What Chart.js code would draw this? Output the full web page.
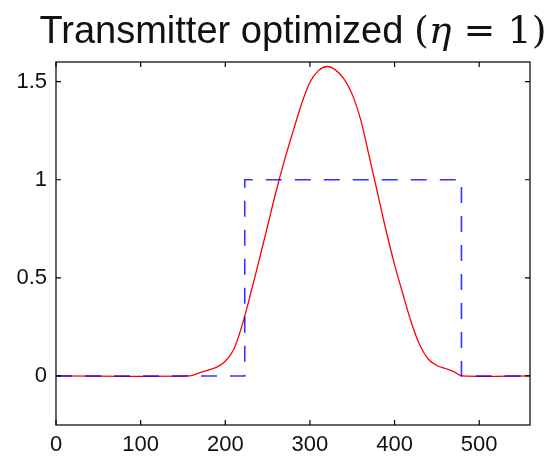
<!DOCTYPE html>
<html>
<head>
<meta charset="utf-8">
<script src="https://cdn.jsdelivr.net/npm/chart.js@4/dist/chart.umd.min.js"></script>
<style>
  html, body { margin: 0; padding: 0; background: #fff; }
  #wrap { width: 552px; height: 458px; }
</style>
</head>
<body>
<div id="wrap"><canvas id="c" width="552" height="458"></canvas></div>
<script>
// data
const redX = [0, 158, 170, 180, 190, 200, 210, 220, 230, 240, 250, 260, 270, 280, 290, 300, 310, 320, 330, 340, 350, 360, 370, 380, 390, 400, 410, 420, 430, 440, 450, 460, 470, 480, 560];
const redY = [0, 0, 0.017, 0.03, 0.045, 0.075, 0.135, 0.26, 0.42, 0.59, 0.765, 0.94, 1.10, 1.245, 1.385, 1.497, 1.556, 1.577, 1.56, 1.515, 1.435, 1.305, 1.12, 0.93, 0.74, 0.567, 0.415, 0.27, 0.155, 0.085, 0.053, 0.038, 0.022, 0, 0];
const blueX = [0, 223, 223, 479, 479, 560];
const blueY = [0, 0, 1, 1, 0, 0];
const xTicks = [0, 100, 200, 300, 400, 500];
const yTicks = [0, 0.5, 1, 1.5];
const titleParts = [
  { text: 'Transmitter optimized ', font: '38px "Liberation Sans"' },
  { text: '(', font: '38px "DejaVu Serif"' },
  { text: 'η', font: 'italic 38px "DejaVu Serif"' },
  { text: ' = 1)', font: '38px "DejaVu Serif"' }
];

const toPoints = (xs, ys) => xs.map((x, i) => ({ x: x, y: ys[i] }));

// box + inward ticks on all four sides, plus the title
const frame = {
  id: 'frame',
  afterDraw(chart) {
    const ctx = chart.ctx;
    const a = chart.chartArea;
    const sx = chart.scales.x, sy = chart.scales.y;
    const len = 5;
    ctx.save();
    ctx.strokeStyle = '#000';
    ctx.lineWidth = 1.2;
    ctx.strokeRect(a.left, a.top, a.right - a.left, a.bottom - a.top);
    ctx.beginPath();
    xTicks.forEach(v => {
      const p = sx.getPixelForValue(v);
      ctx.moveTo(p, a.bottom); ctx.lineTo(p, a.bottom - len);
      ctx.moveTo(p, a.top); ctx.lineTo(p, a.top + len);
    });
    yTicks.forEach(v => {
      const p = sy.getPixelForValue(v);
      ctx.moveTo(a.left, p); ctx.lineTo(a.left + len, p);
      ctx.moveTo(a.right, p); ctx.lineTo(a.right - len, p);
    });
    ctx.stroke();

    // title
    ctx.fillStyle = '#111';
    ctx.textBaseline = 'alphabetic';
    let total = 0;
    titleParts.forEach(t => { ctx.font = t.font; total += ctx.measureText(t.text).width; });
    let x = (a.left + a.right) / 2 - total / 2;
    titleParts.forEach(t => {
      ctx.font = t.font;
      ctx.fillText(t.text, x, 43);
      x += ctx.measureText(t.text).width;
    });
    ctx.restore();
  }
};

new Chart(document.getElementById('c'), {
  type: 'line',
  data: {
    datasets: [
      {
        data: toPoints(redX, redY),
        borderColor: 'rgb(255,0,0)',
        borderWidth: 1.3,
        pointRadius: 0,
        tension: 0.3,
        order: 2
      },
      {
        data: toPoints(blueX, blueY),
        borderColor: 'rgba(0,0,255,0.8)',
        borderWidth: 1.6,
        borderDash: [16, 13],
        pointRadius: 0,
        tension: 0,
        order: 1
      }
    ]
  },
  plugins: [frame],
  options: {
    responsive: false,
    animation: false,
    layout: { padding: { top: 62, right: 22, left: 0, bottom: 0 } },
    plugins: { legend: { display: false }, tooltip: { enabled: false } },
    scales: {
      x: {
        type: 'linear',
        min: 0,
        max: 560,
        afterBuildTicks: s => { s.ticks = xTicks.map(v => ({ value: v })); },
        afterFit: s => { s.height = 33; },
        grid: { display: false, drawTicks: false },
        border: { display: false },
        ticks: { color: '#111', padding: 7, maxRotation: 0, callback: v => String(v), font: { family: '"Liberation Sans"', size: 22 } }
      },
      y: {
        type: 'linear',
        min: -0.25,
        max: 1.6,
        afterBuildTicks: s => { s.ticks = yTicks.map(v => ({ value: v })); },
        afterFit: s => { s.width = 56; },
        grid: { display: false, drawTicks: false },
        border: { display: false },
        ticks: { color: '#111', padding: 9, callback: v => String(v), font: { family: '"Liberation Sans"', size: 22 } }
      }
    }
  }
});
</script>
</body>
</html>
